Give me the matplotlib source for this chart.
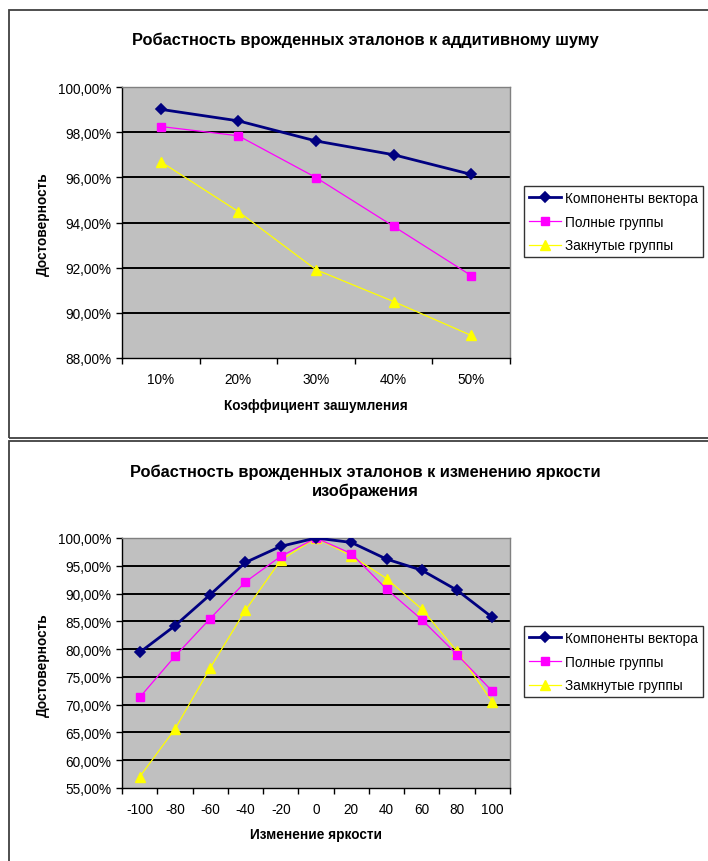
import matplotlib
matplotlib.use("Agg")
import matplotlib.pyplot as plt
from matplotlib.ticker import FuncFormatter, FixedLocator
from matplotlib.patches import Rectangle

plt.rcParams['font.family'] = ['Liberation Sans', 'DejaVu Sans']

# ---------------- data ----------------
noise_labels = ["10%", "20%", "30%", "40%", "50%"]
noise_components = [99.01, 98.50, 97.61, 97.00, 96.13]
noise_full = [98.25, 97.84, 95.99, 93.83, 91.65]
noise_closed = [96.69, 94.48, 91.91, 90.50, 89.00]

bright_labels = ["-100", "-80", "-60", "-40", "-20", "0", "20", "40", "60", "80", "100"]
bright_components = [79.4, 84.2, 89.8, 95.6, 98.5, 100.0, 99.2, 96.2, 94.2, 90.6, 85.7]
bright_full = [71.3, 78.7, 85.5, 92.1, 96.7, 100.0, 97.2, 90.8, 85.3, 79.0, 72.4]
bright_closed = [57.0, 65.6, 76.6, 87.0, 96.0, 100.0, 96.8, 92.7, 87.2, 79.6, 70.5]

series_names_top = ["Компоненты вектора", "Полные группы", "Закнутые группы"]
series_names_bottom = ["Компоненты вектора", "Полные группы", "Замкнутые группы"]

title_top = "Робастность врожденных эталонов к аддитивному шуму"
title_bottom = "Робастность врожденных эталонов к изменению яркости\nизображения"
ylabel = "Достоверность"
xlabel_top = "Коэффициент зашумления"
xlabel_bottom = "Изменение яркости"

# ---------------- figure ----------------
W, H = 708, 862
DPI = 100
fig = plt.figure(figsize=(W / DPI, H / DPI), dpi=DPI)
fig.patch.set_facecolor("white")

def fx(px):
    return px / W

def fy(py):
    return 1 - py / H

# chart frames
for (x0, y0, x1, y1) in [(9, 11, 730, 439), (9, 442, 730, 880)]:
    fig.add_artist(Rectangle((fx(x0), fy(y1)), fx(x1) - fx(x0), fy(y0) - fy(y1),
                             transform=fig.transFigure, fill=False,
                             edgecolor="#404040", linewidth=1.3, clip_on=False))

FS = 9.8
NAVY = "#000080"
MAG = "#FF00FF"
YEL = "#FFFF00"

def pct(v, pos):
    return ("%.2f%%" % v).replace(".", ",")

def style_axes(ax, n, labels, ylim, ystep):
    ax.set_facecolor("#C0C0C0")
    ax.set_xlim(-0.5, n - 0.5)
    ax.set_ylim(*ylim)
    yt = []
    v = ylim[0]
    while v <= ylim[1] + 1e-9:
        yt.append(v)
        v += ystep
    ax.set_yticks(yt)
    ax.yaxis.set_major_formatter(FuncFormatter(pct))
    ax.set_xticks(range(n))
    ax.set_xticklabels(labels)
    ax.xaxis.set_minor_locator(FixedLocator([i - 0.5 for i in range(n + 1)]))
    ax.tick_params(axis="x", which="major", length=0, pad=10, labelsize=FS)
    ax.tick_params(axis="x", which="minor", length=4, width=1, color="black", direction="out")
    ax.tick_params(axis="y", which="major", length=4, width=1, color="black", direction="out",
                   pad=3.5, labelsize=FS)
    for y in yt[1:-1]:
        ax.axhline(y, color="black", linewidth=1.4, zorder=1)
    for s in ["top", "right"]:
        ax.spines[s].set_color("#808080")
        ax.spines[s].set_linewidth(1.0)
    for s in ["left", "bottom"]:
        ax.spines[s].set_color("black")
        ax.spines[s].set_linewidth(1.0)

def draw_series(ax, vals_list, names):
    x = range(len(vals_list[0]))
    ax.plot(x, vals_list[0], color=NAVY, linewidth=2.0, marker="D", markersize=5,
            markerfacecolor=NAVY, markeredgecolor=NAVY, markeredgewidth=1.2,
            zorder=5, label=names[0])
    ax.plot(x, vals_list[1], color=MAG, linewidth=0.9, marker="s", markersize=5.5,
            markerfacecolor=MAG, markeredgecolor=MAG, zorder=4, label=names[1])
    ax.plot(x, vals_list[2], color=YEL, linewidth=0.9, marker="^", markersize=7,
            markerfacecolor=YEL, markeredgecolor=YEL, zorder=3, label=names[2])

def add_legend(ax, top_px):
    handles, labels = ax.get_legend_handles_labels()
    leg = fig.legend(handles, labels, loc="upper left",
                     bbox_to_anchor=(fx(524), fy(top_px)), bbox_transform=fig.transFigure,
                     fontsize=FS, frameon=True, fancybox=False, shadow=False,
                     edgecolor="black", borderpad=0.35, labelspacing=0.72,
                     handlelength=2.4, handletextpad=0.25, borderaxespad=0.0,
                     markerscale=1.0)
    leg.get_frame().set_linewidth(1.0)
    return leg

# ---- top chart ----
ax1 = fig.add_axes([fx(122), fy(359), fx(510) - fx(122), fy(88) - fy(359)])
style_axes(ax1, len(noise_labels), noise_labels, (88, 100), 2)
draw_series(ax1, [noise_components, noise_full, noise_closed], series_names_top)
add_legend(ax1, 187)
fig.text(fx(365), fy(40), title_top, ha="center", va="center", fontsize=11.8, fontweight="bold")
fig.text(fx(316), fy(406), xlabel_top, ha="center", va="center", fontsize=FS, fontweight="bold")
fig.text(fx(43), fy(224), ylabel, ha="center", va="center", rotation=90, fontsize=FS, fontweight="bold")

# ---- bottom chart ----
ax2 = fig.add_axes([fx(122), fy(789), fx(510) - fx(122), fy(539) - fy(789)])
style_axes(ax2, len(bright_labels), bright_labels, (55, 100), 5)
draw_series(ax2, [bright_components, bright_full, bright_closed], series_names_bottom)
add_legend(ax2, 627)
fig.text(fx(365), fy(482), title_bottom, ha="center", va="center", fontsize=11.8,
         fontweight="bold", linespacing=1.25)
fig.text(fx(316), fy(835), xlabel_bottom, ha="center", va="center", fontsize=FS, fontweight="bold")
fig.text(fx(43), fy(665), ylabel, ha="center", va="center", rotation=90, fontsize=FS, fontweight="bold")

fig.savefig("out.png", dpi=DPI, facecolor="white")
